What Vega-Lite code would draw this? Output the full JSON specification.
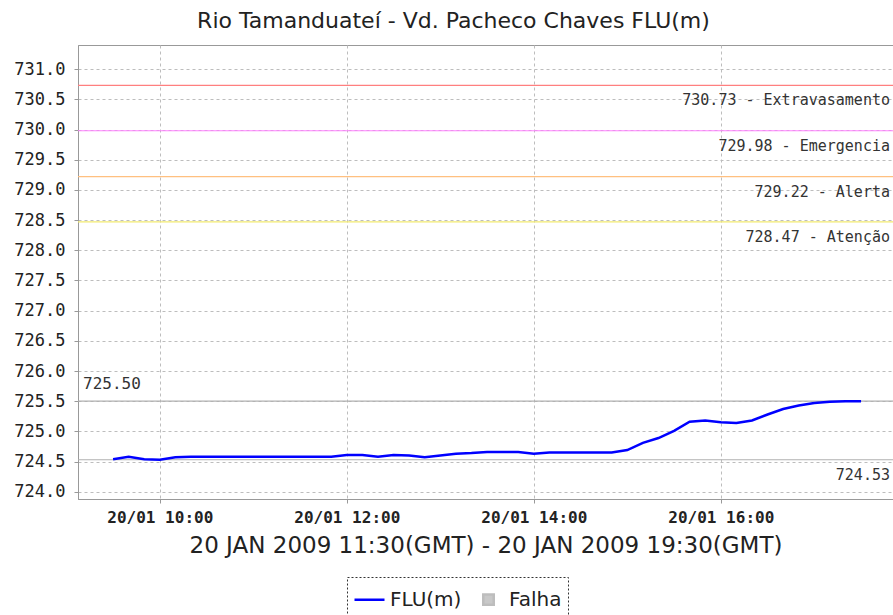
{
  "$schema": "https://vega.github.io/schema/vega-lite/v6.json",
  "autosize": {"type": "none"},
  "padding": {"left": 78, "top": 45, "right": 0, "bottom": 116},
  "width": 815,
  "height": 454,
  "background": "white",
  "title": {
    "text": "Rio Tamanduateí - Vd. Pacheco Chaves FLU(m)",
    "font": "DejaVu Sans",
    "fontSize": 22,
    "fontWeight": "normal",
    "color": "#222",
    "offset": 12,
    "dx": -32
  },
  "config": {
    "view": {"stroke": "#999", "strokeWidth": 1},
    "axis": {
      "grid": true,
      "gridColor": "#bdbdbd",
      "gridDash": [3, 3],
      "gridWidth": 1,
      "domainColor": "#999",
      "tickColor": "#999",
      "labelColor": "#222"
    }
  },
  "datasets": {
    "serie": [
      {"t": "2009-01-20T09:30:00", "v": 724.54, "s": "FLU(m)"},
      {"t": "2009-01-20T09:40:00", "v": 724.58, "s": "FLU(m)"},
      {"t": "2009-01-20T09:50:00", "v": 724.54, "s": "FLU(m)"},
      {"t": "2009-01-20T10:00:00", "v": 724.53, "s": "FLU(m)"},
      {"t": "2009-01-20T10:10:00", "v": 724.57, "s": "FLU(m)"},
      {"t": "2009-01-20T10:20:00", "v": 724.58, "s": "FLU(m)"},
      {"t": "2009-01-20T10:30:00", "v": 724.58, "s": "FLU(m)"},
      {"t": "2009-01-20T10:40:00", "v": 724.58, "s": "FLU(m)"},
      {"t": "2009-01-20T10:50:00", "v": 724.58, "s": "FLU(m)"},
      {"t": "2009-01-20T11:00:00", "v": 724.58, "s": "FLU(m)"},
      {"t": "2009-01-20T11:10:00", "v": 724.58, "s": "FLU(m)"},
      {"t": "2009-01-20T11:20:00", "v": 724.58, "s": "FLU(m)"},
      {"t": "2009-01-20T11:30:00", "v": 724.58, "s": "FLU(m)"},
      {"t": "2009-01-20T11:40:00", "v": 724.58, "s": "FLU(m)"},
      {"t": "2009-01-20T11:50:00", "v": 724.58, "s": "FLU(m)"},
      {"t": "2009-01-20T12:00:00", "v": 724.61, "s": "FLU(m)"},
      {"t": "2009-01-20T12:10:00", "v": 724.61, "s": "FLU(m)"},
      {"t": "2009-01-20T12:20:00", "v": 724.58, "s": "FLU(m)"},
      {"t": "2009-01-20T12:30:00", "v": 724.61, "s": "FLU(m)"},
      {"t": "2009-01-20T12:40:00", "v": 724.60, "s": "FLU(m)"},
      {"t": "2009-01-20T12:50:00", "v": 724.57, "s": "FLU(m)"},
      {"t": "2009-01-20T13:00:00", "v": 724.60, "s": "FLU(m)"},
      {"t": "2009-01-20T13:10:00", "v": 724.63, "s": "FLU(m)"},
      {"t": "2009-01-20T13:20:00", "v": 724.64, "s": "FLU(m)"},
      {"t": "2009-01-20T13:30:00", "v": 724.66, "s": "FLU(m)"},
      {"t": "2009-01-20T13:40:00", "v": 724.66, "s": "FLU(m)"},
      {"t": "2009-01-20T13:50:00", "v": 724.66, "s": "FLU(m)"},
      {"t": "2009-01-20T14:00:00", "v": 724.63, "s": "FLU(m)"},
      {"t": "2009-01-20T14:10:00", "v": 724.65, "s": "FLU(m)"},
      {"t": "2009-01-20T14:20:00", "v": 724.65, "s": "FLU(m)"},
      {"t": "2009-01-20T14:30:00", "v": 724.65, "s": "FLU(m)"},
      {"t": "2009-01-20T14:40:00", "v": 724.65, "s": "FLU(m)"},
      {"t": "2009-01-20T14:50:00", "v": 724.65, "s": "FLU(m)"},
      {"t": "2009-01-20T15:00:00", "v": 724.69, "s": "FLU(m)"},
      {"t": "2009-01-20T15:10:00", "v": 724.81, "s": "FLU(m)"},
      {"t": "2009-01-20T15:20:00", "v": 724.89, "s": "FLU(m)"},
      {"t": "2009-01-20T15:30:00", "v": 725.01, "s": "FLU(m)"},
      {"t": "2009-01-20T15:40:00", "v": 725.16, "s": "FLU(m)"},
      {"t": "2009-01-20T15:50:00", "v": 725.18, "s": "FLU(m)"},
      {"t": "2009-01-20T16:00:00", "v": 725.15, "s": "FLU(m)"},
      {"t": "2009-01-20T16:10:00", "v": 725.14, "s": "FLU(m)"},
      {"t": "2009-01-20T16:20:00", "v": 725.18, "s": "FLU(m)"},
      {"t": "2009-01-20T16:30:00", "v": 725.28, "s": "FLU(m)"},
      {"t": "2009-01-20T16:40:00", "v": 725.37, "s": "FLU(m)"},
      {"t": "2009-01-20T16:50:00", "v": 725.43, "s": "FLU(m)"},
      {"t": "2009-01-20T17:00:00", "v": 725.47, "s": "FLU(m)"},
      {"t": "2009-01-20T17:10:00", "v": 725.49, "s": "FLU(m)"},
      {"t": "2009-01-20T17:20:00", "v": 725.50, "s": "FLU(m)"},
      {"t": "2009-01-20T17:30:00", "v": 725.50, "s": "FLU(m)"}
    ],
    "refs": [
      {"nome": "Extravasamento", "v": 730.73, "label": "730.73 - Extravasamento", "lado": "direita"},
      {"nome": "Emergencia", "v": 729.98, "label": "729.98 - Emergencia", "lado": "direita"},
      {"nome": "Alerta", "v": 729.22, "label": "729.22 - Alerta", "lado": "direita"},
      {"nome": "Atenção", "v": 728.47, "label": "728.47 - Atenção", "lado": "direita"},
      {"nome": "Máximo", "v": 725.50, "label": "725.50", "lado": "esquerda"},
      {"nome": "Mínimo", "v": 724.53, "label": "724.53", "lado": "direita"}
    ]
  },
  "encoding": {
    "y": {
      "field": "v", "type": "quantitative",
      "scale": {"domain": [723.88, 731.4], "nice": false, "zero": false},
      "axis": {
        "title": null,
        "values": [724, 724.5, 725, 725.5, 726, 726.5, 727, 727.5, 728, 728.5, 729, 729.5, 730, 730.5, 731],
        "format": ".1f",
        "labelOverlap": false,
        "labelFont": "DejaVu Sans Mono",
        "labelFontSize": 17,
        "labelPadding": 9,
        "tickSize": 4
      }
    }
  },
  "layer": [
    {
      "data": {"name": "refs"},
      "mark": {"type": "rule", "strokeWidth": 1.2},
      "encoding": {
        "stroke": {
          "field": "nome", "type": "nominal",
          "scale": {
            "domain": ["Extravasamento", "Emergencia", "Alerta", "Atenção", "Máximo", "Mínimo"],
            "range": ["#ff7f7f", "#ff80ff", "#ffc080", "#f2ea70", "#b0b0b0", "#b0b0b0"]
          },
          "legend": null
        }
      }
    },
    {
      "data": {"name": "refs"},
      "transform": [{"filter": "datum.lado === 'direita'"}],
      "mark": {"type": "text", "align": "right", "baseline": "middle", "dx": -3, "dy": 15, "font": "DejaVu Sans Mono", "fontSize": 15, "color": "#333"},
      "encoding": {
        "x": {"datum": {"year": 2009, "month": 1, "date": 20, "hours": 17, "minutes": 50, "seconds": 30}, "type": "temporal"},
        "text": {"field": "label"}
      }
    },
    {
      "data": {"name": "refs"},
      "transform": [{"filter": "datum.lado === 'esquerda'"}],
      "mark": {"type": "text", "align": "left", "baseline": "middle", "dx": 5, "dy": -17, "font": "DejaVu Sans Mono", "fontSize": 16, "color": "#333"},
      "encoding": {
        "x": {"datum": {"year": 2009, "month": 1, "date": 20, "hours": 9, "minutes": 7, "seconds": 30}, "type": "temporal"},
        "text": {"field": "label"}
      }
    },
    {
      "data": {"name": "serie"},
      "mark": {"type": "line", "strokeWidth": 2.5},
      "encoding": {
        "x": {
          "field": "t", "type": "temporal",
          "scale": {"domain": [
            {"year": 2009, "month": 1, "date": 20, "hours": 9, "minutes": 7, "seconds": 30},
            {"year": 2009, "month": 1, "date": 20, "hours": 17, "minutes": 50, "seconds": 30}
          ]},
          "axis": {
            "title": "20 JAN 2009 11:30(GMT) - 20 JAN 2009 19:30(GMT)",
            "titleFont": "DejaVu Sans",
            "titleFontSize": 23,
            "titleFontWeight": "normal",
            "titleColor": "#222",
            "titlePadding": 9,
            "grid": true,
            "values": [
              {"year": 2009, "month": 1, "date": 20, "hours": 10},
              {"year": 2009, "month": 1, "date": 20, "hours": 12},
              {"year": 2009, "month": 1, "date": 20, "hours": 14},
              {"year": 2009, "month": 1, "date": 20, "hours": 16}
            ],
            "format": "%d/%m %H:%M",
            "labelFont": "DejaVu Sans Mono",
            "labelFontSize": 16,
            "labelFontWeight": "bold",
            "labelPadding": 6,
            "tickSize": 4
          }
        },
        "color": {
          "field": "s", "type": "nominal",
          "scale": {"domain": ["FLU(m)", "Falha"], "range": ["#0000ff", "#bdbdbd"]},
          "legend": {
            "title": null,
            "orient": "none",
            "legendX": 269,
            "legendY": 532,
            "direction": "horizontal",
            "strokeColor": "#333",
            "padding": 6,
            "labelFont": "DejaVu Sans",
            "labelFontSize": 20,
            "labelColor": "#222",
            "columnPadding": 10,
            "symbolStrokeWidth": 2.5,
            "encode": {
              "legend": {"update": {"strokeDash": {"value": [2, 2]}}},
              "symbols": {
                "update": {
                  "shape": {"signal": "datum.value === 'Falha' ? 'square' : 'stroke'"},
                  "size": {"signal": "datum.value === 'Falha' ? 110 : 900"},
                  "fill": {"signal": "datum.value === 'Falha' ? '#c8c8c8' : 'transparent'"},
                  "stroke": {"signal": "datum.value === 'Falha' ? '#c8c8c8' : '#0000ff'"}
                }
              }
            }
          }
        }
      }
    }
  ]
}
